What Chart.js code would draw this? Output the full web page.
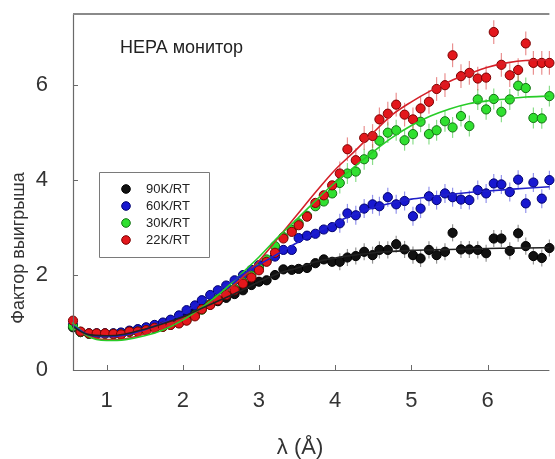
<!DOCTYPE html>
<html><head><meta charset="utf-8">
<script src="https://cdn.jsdelivr.net/npm/chart.js@4.4.0/dist/chart.umd.min.js"></script>
<style>html,body{margin:0;padding:0;background:#fff}#wrap{width:555px;height:459px;position:relative}</style>
</head><body><div id="wrap"><canvas id="c" width="555" height="459"></canvas></div>
<script>
// ---- data ----
const lambda = [0.56,0.66,0.77,0.87,0.98,1.09,1.19,1.30,1.41,1.52,1.63,1.74,1.84,1.95,2.05,2.16,2.25,2.36,2.46,2.57,2.68,2.79,2.90,3.00,3.10,3.21,3.32,3.43,3.52,3.63,3.74,3.85,3.96,4.06,4.16,4.27,4.38,4.49,4.58,4.69,4.80,4.91,5.02,5.12,5.23,5.33,5.44,5.54,5.65,5.76,5.87,5.98,6.08,6.18,6.29,6.40,6.50,6.60,6.71,6.81];
const gain90K = [0.90,0.80,0.77,0.77,0.77,0.77,0.78,0.82,0.85,0.88,0.93,0.98,1.03,1.09,1.15,1.22,1.30,1.38,1.45,1.52,1.60,1.68,1.79,1.86,1.89,2.00,2.12,2.11,2.13,2.15,2.25,2.33,2.28,2.28,2.37,2.40,2.49,2.42,2.53,2.53,2.65,2.54,2.42,2.35,2.53,2.42,2.49,2.89,2.54,2.54,2.53,2.46,2.77,2.77,2.51,2.88,2.61,2.40,2.36,2.57];
const gain60K = [0.95,0.80,0.77,0.77,0.77,0.77,0.79,0.83,0.86,0.90,0.95,1.00,1.06,1.15,1.26,1.36,1.47,1.58,1.68,1.78,1.89,2.00,2.11,2.21,2.30,2.39,2.53,2.53,2.78,2.83,2.87,2.96,3.01,3.09,3.30,3.26,3.40,3.49,3.45,3.64,3.49,3.56,3.24,3.40,3.66,3.58,3.72,3.64,3.59,3.58,3.79,3.72,3.93,3.91,3.75,4.01,3.51,3.95,3.61,4.00];
const gain30K = [0.92,0.80,0.76,0.76,0.76,0.75,0.75,0.80,0.81,0.84,0.88,0.91,0.95,0.99,1.05,1.15,1.27,1.38,1.49,1.60,1.71,1.85,1.99,2.15,2.33,2.61,2.80,2.95,3.09,3.25,3.45,3.55,3.72,3.94,4.14,4.18,4.44,4.54,4.83,5.00,5.05,4.84,4.97,5.23,4.97,5.05,5.24,5.11,5.35,5.14,5.70,5.49,5.71,5.44,5.70,5.99,5.94,5.31,5.30,5.77];
const gain22K = [1.04,0.81,0.77,0.77,0.77,0.76,0.75,0.81,0.81,0.84,0.89,0.91,0.95,0.98,1.04,1.13,1.28,1.37,1.47,1.58,1.68,1.82,1.95,2.10,2.28,2.47,2.77,2.91,3.05,3.23,3.52,3.68,3.89,4.14,4.65,4.42,4.89,4.93,5.28,5.40,5.59,5.38,5.28,5.51,5.65,5.92,6.00,6.63,6.19,6.26,6.14,6.16,7.12,6.43,6.21,6.32,6.88,6.47,6.47,6.47];

const fitLambda = [0.55,0.75,1.0,1.25,1.5,1.75,2.0,2.25,2.5,2.75,3.0,3.25,3.5,3.75,4.0,4.25,4.5,4.75,5.0,5.25,5.5,5.75,6.0,6.25,6.5,6.81];
const fit90K = [0.92,0.75,0.72,0.76,0.86,0.98,1.12,1.30,1.48,1.66,1.86,2.03,2.15,2.28,2.36,2.42,2.47,2.50,2.52,2.53,2.54,2.55,2.56,2.565,2.57,2.58];
const fit60K = [0.95,0.75,0.70,0.74,0.85,1.00,1.20,1.45,1.72,1.98,2.22,2.45,2.68,2.90,3.10,3.28,3.42,3.52,3.60,3.65,3.70,3.74,3.77,3.80,3.83,3.86];
const fit30K = [1.00,0.72,0.62,0.64,0.72,0.85,1.05,1.32,1.63,2.00,2.38,2.80,3.18,3.58,3.95,4.28,4.60,4.90,5.15,5.35,5.50,5.61,5.67,5.71,5.75,5.77];
const fit22K = [0.95,0.72,0.64,0.66,0.76,0.90,1.08,1.30,1.57,1.90,2.30,2.78,3.27,3.76,4.22,4.60,5.00,5.38,5.65,5.88,6.08,6.24,6.38,6.47,6.52,6.53];

const seriesLabels = ['90K/RT','60K/RT','30K/RT','22K/RT'];
const xTickLabels = [1,2,3,4,5,6];
const yTickLabels = [0,2,4,6];
const errBar = [0.18,0.2,0.22,0.25];
const chartTitle = 'HEPA монитор';
const xTitle = 'λ (Å)';
const yTitle = 'Фактор выигрыша';

// ---- styles ----
const fills = ['#111111','#1818d0','#30e030','#e3171c'];
const borders = ['#000000','#00006e','#137013','#7a0000'];
const lineCols = ['#222222','#2020c8','#28cc28','#d42028'];
const errCols = ['rgba(60,60,60,0.55)','rgba(60,60,220,0.55)','rgba(60,200,60,0.6)','rgba(220,70,70,0.6)'];
const pointSeries = [gain90K,gain60K,gain30K,gain22K];
const fitSeries = [fit90K,fit60K,fit30K,fit22K];
const FONT = '"Liberation Sans", Arial, sans-serif';

const datasets = [];
pointSeries.forEach((s,i)=>{
  datasets.push({type:'scatter',label:seriesLabels[i],data:lambda.map((x,j)=>({x:x,y:s[j]})),
    backgroundColor:fills[i],borderColor:borders[i],borderWidth:1,pointRadius:4.6,pointHoverRadius:4.6,
    order:4-i+1,clip:false});
});
fitSeries.forEach((s,i)=>{
  datasets.push({type:'line',label:'fit '+seriesLabels[i],data:fitLambda.map((x,j)=>({x:x,y:s[j]})),
    borderColor:lineCols[i],borderWidth:1.6,pointRadius:0,fill:false,cubicInterpolationMode:'monotone',
    order:0,clip:false});
});

const deco = {
  id:'deco',
  beforeDatasetsDraw(chart){
    const ctx=chart.ctx, xs=chart.scales.x, ys=chart.scales.y;
    ctx.save();
    ctx.lineWidth=1.2;
    pointSeries.forEach((s,i)=>{
      ctx.strokeStyle=errCols[i];
      lambda.forEach((x,j)=>{
        if(x<4.0) return;
        const px=xs.getPixelForValue(x);
        ctx.beginPath();
        ctx.moveTo(px,ys.getPixelForValue(s[j]-errBar[i]));
        ctx.lineTo(px,ys.getPixelForValue(s[j]+errBar[i]));
        ctx.stroke();
      });
    });
    ctx.restore();
  },
  afterDraw(chart){
    const ctx=chart.ctx, a=chart.chartArea, xs=chart.scales.x, ys=chart.scales.y;
    ctx.save();
    // frame
    ctx.strokeStyle='#6a6a6a'; ctx.lineWidth=1.2;
    ctx.beginPath();
    ctx.moveTo(a.left+0.5,a.top); ctx.lineTo(a.left+0.5,a.bottom+0.5); ctx.lineTo(a.right,a.bottom+0.5);
    ctx.stroke();
    ctx.strokeStyle='#8a8a8a'; ctx.lineWidth=2;
    ctx.beginPath(); ctx.moveTo(a.left,a.top); ctx.lineTo(a.right,a.top); ctx.stroke();
    // ticks (inward)
    ctx.strokeStyle='#6a6a6a'; ctx.lineWidth=1;
    xTickLabels.forEach(v=>{const p=Math.round(xs.getPixelForValue(v))+0.5;ctx.beginPath();ctx.moveTo(p,a.bottom);ctx.lineTo(p,a.bottom-5);ctx.stroke();});
    yTickLabels.forEach(v=>{const p=Math.round(ys.getPixelForValue(v))+0.5;ctx.beginPath();ctx.moveTo(a.left,p);ctx.lineTo(a.left+5,p);ctx.stroke();});
    // tick labels
    ctx.fillStyle='#333'; ctx.font='22px '+FONT;
    ctx.textAlign='center'; ctx.textBaseline='middle';
    xTickLabels.forEach(v=>ctx.fillText(String(v),xs.getPixelForValue(v),a.bottom+31));
    ctx.textAlign='right';
    yTickLabels.forEach(v=>ctx.fillText(String(v),a.left-25,ys.getPixelForValue(v)));
    // axis titles
    ctx.textAlign='center';
    ctx.font='22px '+FONT;
    ctx.fillText(xTitle,300,448);
    ctx.save(); ctx.translate(19,248); ctx.rotate(-Math.PI/2);
    ctx.font='18px '+FONT; ctx.fillText(yTitle,0,0); ctx.restore();
    // chart title
    ctx.fillStyle='#222'; ctx.font='18px '+FONT; ctx.textAlign='left'; ctx.textBaseline='alphabetic';
    ctx.fillText(chartTitle,120,53);
    // legend
    ctx.strokeStyle='#7a7a7a'; ctx.lineWidth=1; ctx.fillStyle='#fff';
    ctx.beginPath(); ctx.rect(99.5,172.5,110,85); ctx.fill(); ctx.stroke();
    ctx.font='13px '+FONT; ctx.textBaseline='middle';
    seriesLabels.forEach((lab,i)=>{
      const y=189+i*17;
      ctx.beginPath(); ctx.arc(126,y,4.3,0,Math.PI*2);
      ctx.fillStyle=fills[i]; ctx.fill(); ctx.strokeStyle=borders[i]; ctx.stroke();
      ctx.fillStyle='#222'; ctx.fillText(lab,146,y);
    });
    ctx.restore();
  }
};

new Chart(document.getElementById('c'),{
  data:{datasets:datasets},
  options:{
    responsive:false, animation:false, devicePixelRatio:1,
    layout:{padding:{top:14,right:0,left:0,bottom:0}},
    plugins:{legend:{display:false},tooltip:{enabled:false},title:{display:false}},
    scales:{
      x:{type:'linear',min:0.56,max:6.81,grid:{display:false},border:{display:false},ticks:{display:false},
        afterFit(s){s.height=89;}},
      y:{type:'linear',min:0,max:7.5,grid:{display:false},border:{display:false},ticks:{display:false},
        afterFit(s){s.width=73;}}
    }
  },
  plugins:[deco]
});
</script>
</body></html>
